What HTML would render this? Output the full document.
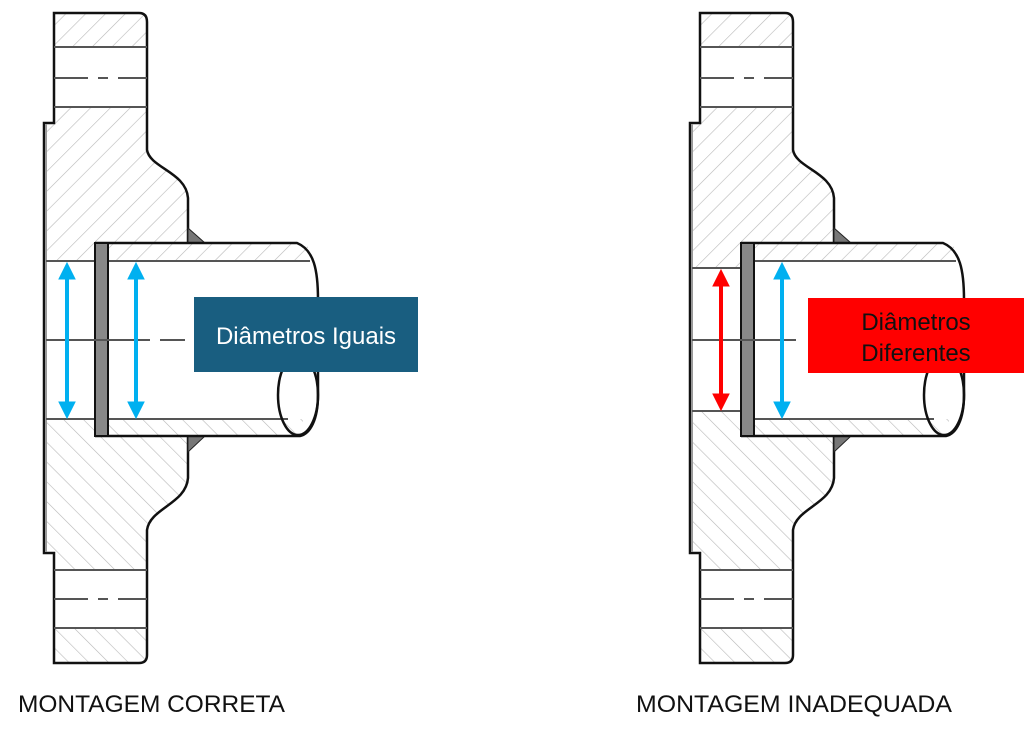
<!DOCTYPE html>
<html><head><meta charset="utf-8"><style>
html,body{margin:0;padding:0;background:#fff;width:1024px;height:737px;overflow:hidden}
svg{display:block}
</style></head><body>
<svg width="1024" height="737" viewBox="0 0 1024 737" xmlns="http://www.w3.org/2000/svg">
<defs>
<pattern id="hu" width="14" height="14" patternUnits="userSpaceOnUse" patternTransform="rotate(45)">
<line x1="0" y1="0" x2="0" y2="14" stroke="#b8b8b8" stroke-width="1.2"/></pattern>
<pattern id="hd" width="14" height="14" patternUnits="userSpaceOnUse" patternTransform="rotate(-45)">
<line x1="0" y1="0" x2="0" y2="14" stroke="#b8b8b8" stroke-width="1.2"/></pattern>
</defs>

<g id="figL">
<path d="M54,13 L139,13 Q147,13 147,22 L147,150 C150,168 186,172 188,198 L188,340 L44,340 L44,123 L54,123 Z" fill="url(#hu)"/>
<path d="M188,340 L188,478 C186,504 150,508 147,530 L147,655 Q147,663 139,663 L54,663 L54,553 L44,553 L44,340 Z" fill="url(#hd)"/>
<rect x="54" y="47" width="93" height="60" fill="#fff"/>
<rect x="54" y="570" width="93" height="58" fill="#fff"/>
<path d="M54,13 L139,13 Q147,13 147,22 L147,150 C150,168 186,172 188,198 L188,478 C186,504 150,508 147,530 L147,655 Q147,663 139,663 L54,663 L54,553 L44,553 L44,123 L54,123 Z" fill="none" stroke="#111" stroke-width="2.5"/>
<line x1="54" y1="47" x2="147" y2="47" stroke="#555" stroke-width="2"/>
<line x1="54" y1="107" x2="147" y2="107" stroke="#555" stroke-width="2"/>
<line x1="54" y1="78" x2="147" y2="78" stroke="#555" stroke-width="2" stroke-dasharray="34,10,10,10"/>
<line x1="54" y1="570" x2="147" y2="570" stroke="#555" stroke-width="2"/>
<line x1="54" y1="628" x2="147" y2="628" stroke="#555" stroke-width="2"/>
<line x1="54" y1="599" x2="147" y2="599" stroke="#555" stroke-width="2" stroke-dasharray="34,10,10,10"/>
<line x1="46" y1="124" x2="46" y2="552" stroke="#999" stroke-width="2"/>
<rect x="47" y="261" width="48" height="158" fill="#fff"/>
<line x1="46" y1="261" x2="95" y2="261" stroke="#555" stroke-width="2"/>
<line x1="46" y1="419" x2="95" y2="419" stroke="#555" stroke-width="2"/>
<path d="M188,228 L205,243 L188,243 Z" fill="#777" stroke="#222" stroke-width="1"/>
<path d="M188,436 L205,436 L188,452 Z" fill="#777" stroke="#222" stroke-width="1"/>
<path d="M95,243 L297,243 C314,250 318,270 318,300 L318,395 C318,420 310,434 300,436 L95,436 Z" fill="#fff"/>
<rect x="108" y="243" width="200" height="18" fill="url(#hu)"/>
<rect x="108" y="419" width="195" height="17" fill="url(#hd)"/>
<path d="M95,243 L297,243 C314,250 318,270 318,300 L318,395 C318,420 310,434 300,436 L95,436" fill="none" stroke="#111" stroke-width="2.5"/>
<line x1="108" y1="261" x2="310" y2="261" stroke="#555" stroke-width="2"/>
<line x1="108" y1="419" x2="288" y2="419" stroke="#555" stroke-width="2"/>
<ellipse cx="298" cy="395" rx="20" ry="40" fill="none" stroke="#111" stroke-width="2.5"/>
<rect x="95" y="243" width="13" height="193" fill="#888" stroke="#111" stroke-width="2"/>
<line x1="46" y1="340" x2="150" y2="340" stroke="#555" stroke-width="2"/>
<line x1="160" y1="340" x2="185" y2="340" stroke="#555" stroke-width="2"/>
</g>
<g fill="#00b0f0" stroke="#00b0f0">
<line x1="67" y1="275" x2="67" y2="405" stroke-width="4"/>
<path d="M59,279 L67,263 L75,279 Z"/><path d="M59,402 L67,418 L75,402 Z"/>
<line x1="136" y1="275" x2="136" y2="405" stroke-width="4"/>
<path d="M128,279 L136,263 L144,279 Z"/><path d="M128,402 L136,418 L144,402 Z"/>
</g>
<rect x="194" y="297" width="224" height="75" fill="#195e80"/>
<text x="306" y="344" font-family="Liberation Sans, sans-serif" font-size="24" fill="#fff" text-anchor="middle">Diâmetros Iguais</text>

<g transform="translate(646,0)">
<path d="M54,13 L139,13 Q147,13 147,22 L147,150 C150,168 186,172 188,198 L188,340 L44,340 L44,123 L54,123 Z" fill="url(#hu)"/>
<path d="M188,340 L188,478 C186,504 150,508 147,530 L147,655 Q147,663 139,663 L54,663 L54,553 L44,553 L44,340 Z" fill="url(#hd)"/>
<rect x="54" y="47" width="93" height="60" fill="#fff"/>
<rect x="54" y="570" width="93" height="58" fill="#fff"/>
<path d="M54,13 L139,13 Q147,13 147,22 L147,150 C150,168 186,172 188,198 L188,478 C186,504 150,508 147,530 L147,655 Q147,663 139,663 L54,663 L54,553 L44,553 L44,123 L54,123 Z" fill="none" stroke="#111" stroke-width="2.5"/>
<line x1="54" y1="47" x2="147" y2="47" stroke="#555" stroke-width="2"/>
<line x1="54" y1="107" x2="147" y2="107" stroke="#555" stroke-width="2"/>
<line x1="54" y1="78" x2="147" y2="78" stroke="#555" stroke-width="2" stroke-dasharray="34,10,10,10"/>
<line x1="54" y1="570" x2="147" y2="570" stroke="#555" stroke-width="2"/>
<line x1="54" y1="628" x2="147" y2="628" stroke="#555" stroke-width="2"/>
<line x1="54" y1="599" x2="147" y2="599" stroke="#555" stroke-width="2" stroke-dasharray="34,10,10,10"/>
<line x1="46" y1="124" x2="46" y2="552" stroke="#999" stroke-width="2"/>
<rect x="47" y="268" width="48" height="143" fill="#fff"/>
<line x1="46" y1="268" x2="95" y2="268" stroke="#555" stroke-width="2"/>
<line x1="46" y1="411" x2="95" y2="411" stroke="#555" stroke-width="2"/>
<path d="M188,228 L205,243 L188,243 Z" fill="#777" stroke="#222" stroke-width="1"/>
<path d="M188,436 L205,436 L188,452 Z" fill="#777" stroke="#222" stroke-width="1"/>
<path d="M95,243 L297,243 C314,250 318,270 318,300 L318,395 C318,420 310,434 300,436 L95,436 Z" fill="#fff"/>
<rect x="108" y="243" width="200" height="18" fill="url(#hu)"/>
<rect x="108" y="419" width="195" height="17" fill="url(#hd)"/>
<path d="M95,243 L297,243 C314,250 318,270 318,300 L318,395 C318,420 310,434 300,436 L95,436" fill="none" stroke="#111" stroke-width="2.5"/>
<line x1="108" y1="261" x2="310" y2="261" stroke="#555" stroke-width="2"/>
<line x1="108" y1="419" x2="288" y2="419" stroke="#555" stroke-width="2"/>
<ellipse cx="298" cy="395" rx="20" ry="40" fill="none" stroke="#111" stroke-width="2.5"/>
<rect x="95" y="243" width="13" height="193" fill="#888" stroke="#111" stroke-width="2"/>
<line x1="46" y1="340" x2="150" y2="340" stroke="#555" stroke-width="2"/>
</g>
<g fill="#ff0000" stroke="#ff0000">
<line x1="721" y1="282" x2="721" y2="398" stroke-width="4"/>
<path d="M713,286 L721,270 L729,286 Z"/><path d="M713,394 L721,410 L729,394 Z"/>
</g>
<g fill="#00b0f0" stroke="#00b0f0">
<line x1="782" y1="275" x2="782" y2="405" stroke-width="4"/>
<path d="M774,279 L782,263 L790,279 Z"/><path d="M774,402 L782,418 L790,402 Z"/>
</g>
<rect x="808" y="298" width="216" height="75" fill="#ff0000"/>
<text x="916" y="330" font-family="Liberation Sans, sans-serif" font-size="24" fill="#111" text-anchor="middle">Diâmetros</text>
<text x="916" y="361" font-family="Liberation Sans, sans-serif" font-size="24" fill="#111" text-anchor="middle">Diferentes</text>

<text x="18" y="712" font-family="Liberation Sans, sans-serif" font-size="24" fill="#111" textLength="267" lengthAdjust="spacingAndGlyphs">MONTAGEM CORRETA</text>
<text x="636" y="712" font-family="Liberation Sans, sans-serif" font-size="24" fill="#111" textLength="316" lengthAdjust="spacingAndGlyphs">MONTAGEM INADEQUADA</text>
</svg>
</body></html>
